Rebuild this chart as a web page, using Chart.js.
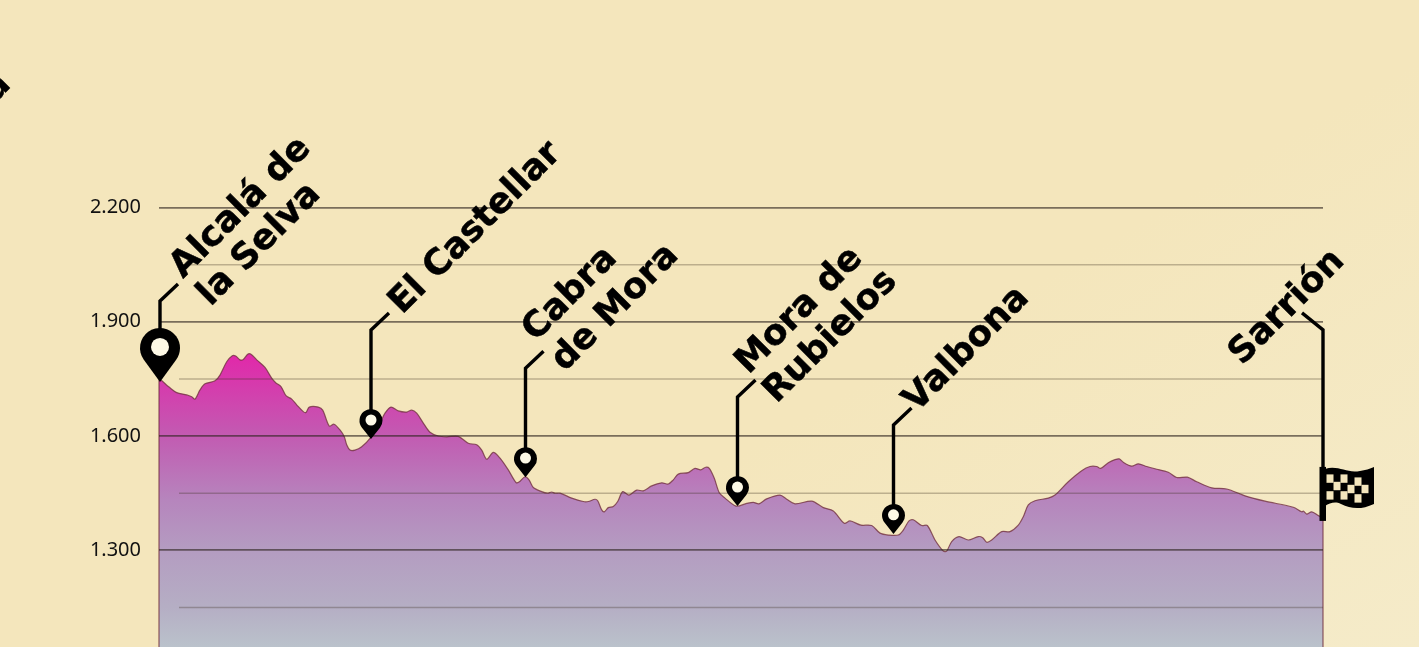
<!DOCTYPE html>
<html lang="es">
<head>
<meta charset="utf-8">
<title>Perfil de etapa</title>
<script src="https://cdn.jsdelivr.net/npm/chart.js@4"></script>
<style>
    html, body { margin: 0; padding: 0; height: 100%; overflow: hidden; }
    body { background: linear-gradient(150deg, #f4e6bc 0%, #f4e6bc 60%, #f5ebc9 100%); }
    #perfil { display: block; }
</style>
</head>
<body>
<canvas id="perfil" width="1419" height="647"></canvas>
<script>
// elevation profile, km / metres
const kms = [0, 0.93, 1.77, 2.77, 3.27, 3.6, 4.1, 4.6, 5.6, 6.1, 6.77, 7.33, 7.67, 8.1, 8.43, 8.87, 9.2, 9.77, 10.6, 11.27,
    11.67, 12.2, 12.7, 13.27, 13.77, 14.43, 14.7, 15.03, 15.93, 16.37, 17.03, 17.5, 18.1, 18.53, 18.77, 19.1, 19.6, 20.27, 21.1, 22.1,
    22.6, 23.2, 23.93, 24.77, 25.27, 25.77, 26.43, 27.1, 27.93, 28.77, 29.93, 30.93, 31.77, 32.27, 32.77, 33.43, 34.1, 34.93, 35.7, 36,
    36.6, 37, 37.43, 38.27, 38.83, 39.27, 39.6, 40.1, 41.27, 42.43, 42.93, 43.6, 43.87, 44.27, 44.53, 44.93, 45.43, 45.87, 46.37, 47,
    47.77, 48.43, 49.27, 50.27, 50.93, 51.43, 51.93, 52.93, 53.6, 54.17, 54.67, 55.03, 55.53, 56.03, 56.6, 57.7, 58.77, 59.43, 60, 60.77,
    62.1, 62.77, 63.6, 65.27, 66.43, 67.43, 68.53, 69.1, 70.2, 71.27, 72.1, 72.93, 73.93, 74.43, 75, 75.43, 76.27, 76.83, 77.6, 78.43,
    78.77, 79.27, 80, 80.93, 81.93, 82.37, 82.77, 83.27, 84.27, 85.1, 85.93, 86.43, 86.93, 87.6, 88.93, 89.6, 90.93, 92.27, 93.1, 93.77,
    94.17, 94.93, 95.6, 96.03, 96.43, 97.27, 97.93, 98.77, 99.6, 100.93, 101.77, 102.83, 103.77, 105.27, 106.77, 108.6, 110.6, 113.43, 114.27, 114.43,
    114.77, 115.27, 115.93, 116.2, 116.4];
const elevs = [1747, 1730, 1714, 1708, 1703, 1697, 1721, 1737, 1745, 1760, 1795, 1811, 1810, 1800, 1801, 1815, 1815, 1800, 1780, 1752,
    1740, 1730, 1706, 1697, 1682, 1664, 1662, 1676, 1676, 1668, 1626, 1631, 1616, 1598, 1577, 1563, 1563, 1572, 1594, 1634,
    1660, 1676, 1666, 1663, 1668, 1660, 1634, 1610, 1600, 1598, 1599, 1581, 1577, 1563, 1539, 1557, 1542, 1511, 1478, 1479,
    1493, 1485, 1465, 1454, 1450, 1453, 1450, 1450, 1437, 1428, 1428, 1434, 1430, 1406, 1401, 1412, 1415, 1428, 1454, 1445,
    1458, 1456, 1469, 1477, 1474, 1485, 1500, 1504, 1515, 1511, 1518, 1515, 1489, 1451, 1437, 1416, 1423, 1426, 1422, 1435,
    1445, 1434, 1422, 1429, 1412, 1403, 1371, 1377, 1366, 1365, 1345, 1340, 1340, 1353, 1377, 1380, 1365, 1365, 1327, 1298,
    1298, 1323, 1336, 1327, 1336, 1333, 1321, 1327, 1349, 1349, 1366, 1388, 1419, 1430, 1437, 1445, 1480, 1509, 1520, 1520,
    1515, 1530, 1538, 1540, 1531, 1521, 1527, 1520, 1514, 1505, 1491, 1492, 1480, 1464, 1461, 1443, 1429, 1413, 1401, 1403,
    1395, 1401, 1391, 1388, 1385];

// elevation axis
const axisMin = 1046;
const axisMax = 2745;
const majorTicks = [1300, 1600, 1900, 2200];
const majorLabels = ['1.300', '1.600', '1.900', '2.200'];
const minorLevels = [1150, 1450, 1750, 2050];
const minorStartKm = 2;

// towns on the route
const townLabels = [['Alcalá de', 'la Selva'], ['El Castellar'], ['Cabra', 'de Mora'], ['Mora de', 'Rubielos'], ['Valbona'], ['Sarrión']];
const townKms = [0.1, 21.2, 36.65, 57.85, 73.45, 116.4];
const townElevs = [1742, 1592, 1492, 1416, 1343, 1385];

const TEXT_FONT = 'bold 35.5px "DejaVu Sans"';

// label anchors in px from the pin tip, one per text line
const labelOffsets = [
    [[23, -103], [50.5, -75]],
    [[31, -124]],
    [[10, -135], [39, -105]],
    [[11, -131], [39, -102]],
    [[23, -121]],
    [[-81, -152]]
];

const drawPin = (c, x, tip, r, h, holeR) => {
    const cy = tip - h + r;
    const beta = Math.acos(r / (h - r));
    c.fillStyle = '#000';
    c.beginPath();
    c.moveTo(x, tip);
    c.arc(x, cy, r, Math.PI / 2 + beta, Math.PI / 2 - beta);
    c.closePath();
    c.fill();
    c.fillStyle = '#fdf9e6';
    c.beginPath();
    c.arc(x, cy - r * 0.05, holeR, 0, Math.PI * 2);
    c.fill();
};

const drawFlag = (c, x, top) => {
    c.fillStyle = '#000';
    c.fillRect(x - 3.5, top, 6.5, 54);
    c.beginPath();
    c.moveTo(x + 2, top + 2);
    c.bezierCurveTo(x + 16, top - 2, x + 24, top + 7, x + 37, top + 4);
    c.bezierCurveTo(x + 42, top + 3, x + 47, top + 2, x + 51, top);
    c.lineTo(x + 51, top + 37);
    c.bezierCurveTo(x + 38, top + 43, x + 28, top + 42, x + 18, top + 37);
    c.bezierCurveTo(x + 12, top + 34, x + 7, top + 36, x + 2, top + 39);
    c.closePath();
    c.fill();
    // checker squares follow the wave of the cloth
    const wave = [0, -1, 0, 2, 3, 2];
    c.fillStyle = '#f4e6bd';
    for (let col = 0; col < 6; col++) {
        for (let row = 0; row < 3; row++) {
            if ((col + row) % 2 === 0) {
                c.fillRect(x + 3.5 + col * 7, top + 7.5 + row * 8.4 + wave[col], 7, 8.4);
            }
        }
    }
};

const townMarks = {
    id: 'townMarks',
    afterDraw(chart) {
        const c = chart.ctx;
        const xs = chart.scales.x;
        const ys = chart.scales.y;
        c.save();
        townKms.forEach((km, i) => {
            const x = xs.getPixelForValue(km);
            const tip = ys.getPixelForValue(townElevs[i]);
            const first = i === 0;
            const last = i === townKms.length - 1;
            const pinH = first ? 54 : 30;
            const rise = first ? 81 : last ? 188 : 109;
            const foot = last ? tip - 50 : tip - pinH + 1;
            c.strokeStyle = '#000';
            c.lineWidth = 3.4;
            c.lineJoin = 'miter';
            c.beginPath();
            c.moveTo(x, foot);
            c.lineTo(x, tip - rise);
            c.lineTo(x + (last ? -21 : 18), tip - rise - 17);
            c.stroke();
            if (last) {
                drawFlag(c, x, tip - 51);
            } else if (first) {
                drawPin(c, x, tip, 20, pinH, 9);
            } else {
                drawPin(c, x, tip, 11.5, pinH, 5.5);
            }
            c.fillStyle = '#000';
            c.font = TEXT_FONT;
            c.textAlign = 'left';
            c.textBaseline = 'alphabetic';
            c.lineWidth = 0.5;
            townLabels[i].forEach((line, n) => {
                c.save();
                c.translate(x + labelOffsets[i][n][0], tip + labelOffsets[i][n][1]);
                c.rotate(-Math.PI / 4);
                c.fillText(line, 0, 0);
                c.strokeText(line, 0, 0);
                c.restore();
            });
        });
        // tail of a label cut by the left edge
        c.save();
        c.translate(-5, 103);
        c.rotate(-Math.PI / 4);
        c.fillText('a', 0, 0);
        c.strokeText('a', 0, 0);
        c.restore();
        c.restore();
    }
};

const fillGradient = (ctx) => {
    const area = ctx.chart.chartArea;
    if (!area) return '#c05ab0';
    const g = ctx.chart.ctx.createLinearGradient(0, 350, 0, 647);
    g.addColorStop(0, '#e325a9');
    g.addColorStop(0.29, '#c25bb2');
    g.addColorStop(0.505, '#b685bd');
    g.addColorStop(0.673, '#b49cc1');
    g.addColorStop(0.865, '#b5aec4');
    g.addColorStop(1, '#bac2cb');
    return g;
};

const profile = kms.map((km, i) => ({ x: km, y: elevs[i] }));
profile.unshift({ x: kms[0], y: axisMin });
profile.push({ x: kms[kms.length - 1], y: axisMin });

const minorDatasets = minorLevels.map(level => ({
    data: [{ x: minorStartKm, y: level }, { x: kms[kms.length - 1], y: level }],
    borderColor: 'rgba(60, 45, 30, 0.3)',
    borderWidth: 1.5,
    pointRadius: 0,
    fill: false,
    order: 0
}));

new Chart(document.getElementById('perfil'), {
    type: 'line',
    data: {
        datasets: [{
            data: profile,
            backgroundColor: fillGradient,
            borderColor: 'rgba(115, 50, 65, 0.8)',
            borderWidth: 1.2,
            pointRadius: 0,
            fill: 'start',
            tension: 0.3,
            clip: false,
            order: 1
        }, ...minorDatasets]
    },
    plugins: [townMarks],
    options: {
        responsive: false,
        animation: false,
        layout: { padding: { left: 0, right: 96, top: 0, bottom: 0 } },
        plugins: { legend: { display: false }, tooltip: { enabled: false } },
        scales: {
            x: { type: 'linear', display: false, min: 0, max: 116.4 },
            y: {
                min: axisMin,
                max: axisMax,
                afterBuildTicks: axis => { axis.ticks = majorTicks.map(v => ({ value: v })); },
                afterFit: axis => { axis.width = 159; axis.paddingTop = 0; axis.paddingBottom = 0; },
                border: { display: false },
                grid: { color: 'rgba(45, 35, 30, 0.62)', lineWidth: 1.8, drawTicks: false, z: 1 },
                ticks: {
                    padding: 18,
                    color: '#111',
                    font: { family: '"Noto Sans"', size: 20 },
                    callback: value => majorLabels[majorTicks.indexOf(value)]
                }
            }
        }
    }
});
</script>
</body>
</html>
